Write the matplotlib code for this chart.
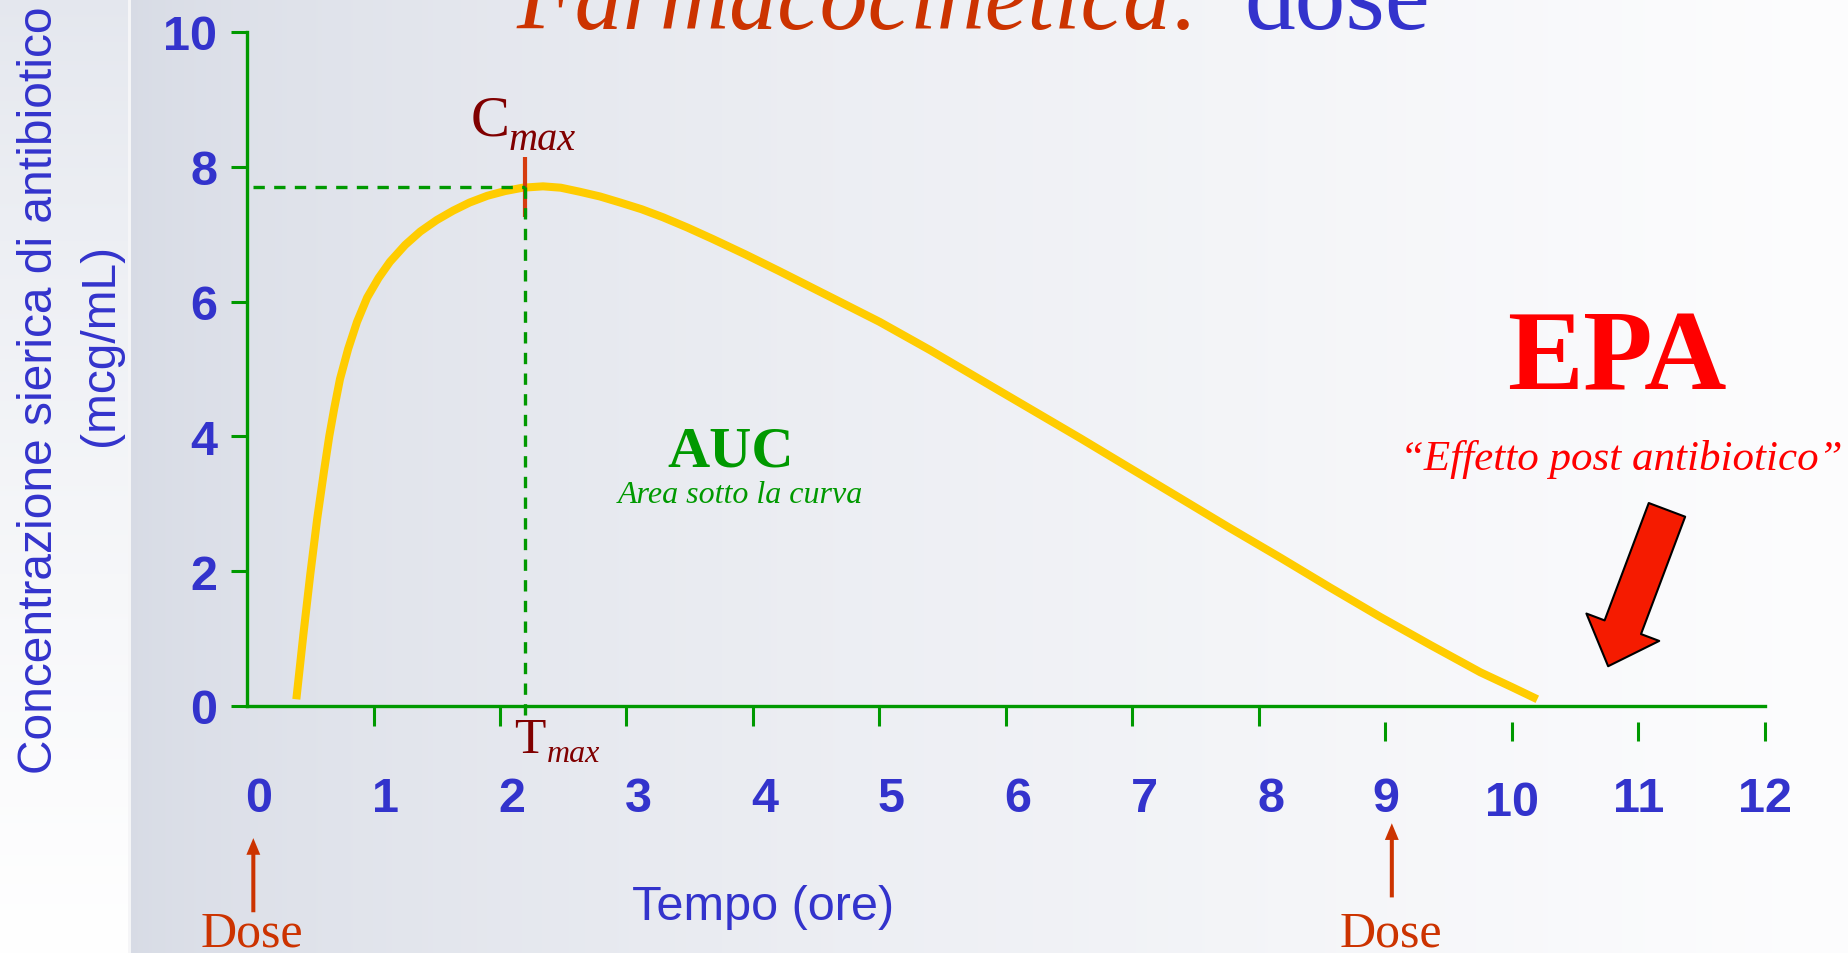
import matplotlib
matplotlib.use('Agg')
import matplotlib.pyplot as plt
import numpy as np
from matplotlib.transforms import ScaledTranslation

# values
hours = list(range(13))
hour_labels = [str(h) for h in hours]
conc_ticks = [0, 2, 4, 6, 8, 10]
conc_labels = [str(c) for c in conc_ticks]

t_curve = [0.39, 0.445, 0.50, 0.555, 0.61, 0.65, 0.69, 0.735, 0.80, 0.87, 0.95, 1.04,
           1.13, 1.25, 1.37, 1.50, 1.63, 1.76, 1.90, 2.04, 2.18, 2.34, 2.48, 2.63,
           2.79, 2.95, 3.12, 3.29, 3.48, 3.68, 3.94, 4.21, 4.60, 5.00, 5.40, 5.79,
           6.19, 6.59, 6.98, 7.38, 7.77, 8.17, 8.56, 8.96, 9.36, 9.75, 10.00, 10.20]
c_curve = [0.10, 1.05, 1.95, 2.78, 3.50, 4.00, 4.42, 4.85, 5.30, 5.70, 6.06, 6.35,
           6.59, 6.84, 7.04, 7.21, 7.35, 7.47, 7.57, 7.64, 7.69, 7.71, 7.69, 7.63,
           7.56, 7.47, 7.37, 7.25, 7.10, 6.93, 6.70, 6.45, 6.08, 5.70, 5.28, 4.85,
           4.41, 3.97, 3.53, 3.08, 2.64, 2.20, 1.76, 1.32, 0.90, 0.50, 0.28, 0.10]

t_max = 2.2
c_max = 7.7
dose_times = [0, 9]

W, H = 1849, 954
BLUE = '#3333CC'
GREEN = '#009900'
ORANGE = '#CC3300'
DARKRED = '#800000'
SANS = 'Liberation Sans'
SERIF = 'Liberation Serif'


def fx(p):
    return p / W


def fy(p):
    return 1 - p / H


fig = plt.figure(figsize=(W / 100, H / 100), dpi=100)

# slide background: light strip on the left, grey-blue to white gradient elsewhere
bg = fig.add_axes([0, 0, 1, 1], zorder=-5)
xx = np.arange(W)[None, :]
yy = np.arange(H)[:, None]
c0 = np.array([215, 219, 229]) / 255
c1 = np.array([253, 253, 254]) / 255
f = np.clip((xx - 130) / (W - 130), 0, 1) ** 0.65
img = c0 + (c1 - c0) * f[..., None]
img = np.repeat(img, H, axis=0)
s0 = np.array([228, 231, 238]) / 255
s1 = np.array([255, 255, 255]) / 255
fs = (yy / H) ** 0.8
strip = s0 + (s1 - s0) * fs[..., None]
img[:, :128] = np.repeat(strip, 128, axis=1)
img[:, 128:131] = np.array([245, 246, 248]) / 255
bg.imshow(img, aspect='auto', extent=[0, 1, 0, 1])
bg.axis('off')

# main axes: x 0..12 -> px 247..1765, y 0..10 -> px 707..33
ax = fig.add_axes([fx(247), fy(707), fx(1765) - fx(247), (707 - 33) / H])
ax.set_facecolor('none')
ax.set_xlim(0, 12)
ax.set_ylim(0, 10)
for s in ['top', 'right']:
    ax.spines[s].set_visible(False)
for s in ['left', 'bottom']:
    ax.spines[s].set_color(GREEN)
    ax.spines[s].set_linewidth(2.4)

ax.set_yticks(conc_ticks)
ax.set_yticklabels(conc_labels)
ax.tick_params(axis='y', direction='out', length=11.5, width=2.2, color=GREEN,
               labelcolor=BLUE, labelsize=35, pad=10)
for lab in ax.get_yticklabels():
    lab.set_fontweight('bold')
    lab.set_family(SANS)
ax.set_xticks([])

# x tick marks: 1-8 attached to the axis, 9-12 floating below it
ax.vlines([h for h in hours if 1 <= h <= 8], 0, -0.30, color=GREEN, lw=2.2, clip_on=False)
ax.vlines([h for h in hours if h >= 9], -0.237, -0.52, color=GREEN, lw=2.2, clip_on=False)

nudge = {10: (0, -4)}
for h, lab in zip(hours, hour_labels):
    dx = 12 if h <= 8 else 0
    ddx, ddy = nudge.get(h, (0, 0))
    off = ScaledTranslation((dx + ddx) / 100, (-93 + ddy) / 100, fig.dpi_scale_trans)
    ax.text(h, 0, lab, transform=ax.transData + off, ha='center', va='center',
            fontsize=35, fontweight='bold', color=BLUE, family=SANS, clip_on=False)

# concentration curve
ax.plot(t_curve, c_curve, color='#FFCC00', lw=5.8, solid_capstyle='butt',
        solid_joinstyle='round', zorder=3, clip_on=False)

# Cmax / Tmax guides
ax.plot([t_max, t_max], [c_max - 0.44, c_max + 0.45], color='#D63C0E', lw=3,
        zorder=4, solid_capstyle='butt')
ax.plot([0.05, t_max], [c_max, c_max], color=GREEN, lw=2.4, dashes=(3.4, 2.8), zorder=5)
ax.plot([t_max, t_max], [c_max, -0.15], color=GREEN, lw=2.4, dashes=(3.4, 2.8), zorder=5,
        clip_on=False)

fig.text(fx(471), fy(136), 'C', family=SERIF, fontsize=42, color=DARKRED, va='baseline')
fig.text(fx(509), fy(150), 'max', family=SERIF, style='italic', fontsize=29,
         color=DARKRED, va='baseline')
fig.text(fx(514), fy(753), 'T', family=SERIF, fontsize=37, color=DARKRED, va='baseline')
fig.text(fx(547), fy(762), 'max', family=SERIF, style='italic', fontsize=23,
         color=DARKRED, va='baseline')

# AUC
fig.text(fx(731), fy(467), 'AUC', family=SERIF, fontweight='bold', fontsize=42,
         color=GREEN, ha='center', va='baseline')
fig.text(fx(740), fy(503), 'Area sotto la curva', family=SERIF, style='italic',
         fontsize=23, color=GREEN, ha='center', va='baseline')

# EPA
fig.text(fx(1617), fy(390), 'EPA', family=SERIF, fontweight='bold', fontsize=82,
         color='#FF0000', ha='center', va='baseline')
fig.text(fx(1621), fy(470), '\u201cEffetto post antibiotico\u201d', family=SERIF,
         style='italic', fontsize=31, color='#FF0000', ha='center', va='baseline')
ax.annotate('', xy=(10.76, 0.59), xytext=(11.225, 2.91),
            arrowprops=dict(arrowstyle='simple,head_length=30,head_width=56,tail_width=28',
                            mutation_scale=1, fc='#F51B00', ec='black', lw=1.5,
                            shrinkA=0, shrinkB=0),
            annotation_clip=False)

# dose arrows
for t, tip in zip(dose_times, [-1.96, -1.74]):
    ax.annotate('', xy=(t + 0.05, tip), xytext=(t + 0.05, tip - 1.1),
                arrowprops=dict(arrowstyle='simple,head_length=12,head_width=10,tail_width=2.9',
                                mutation_scale=1, fc=ORANGE, ec='none',
                                shrinkA=0, shrinkB=0),
                annotation_clip=False)
    ax.text(t + 0.04, -3.55, 'Dose', family=SERIF, fontsize=36, color=ORANGE,
            ha='center', va='baseline', clip_on=False)

# axis titles
fig.text(fx(763), fy(920), 'Tempo (ore)', family=SANS, fontsize=35, color=BLUE,
         ha='center', va='baseline')
fig.text(fx(52), fy(390), 'Concentrazione sierica di antibiotico', family=SANS,
         fontsize=34.5, color=BLUE, rotation=90, rotation_mode='anchor',
         ha='center', va='baseline')
fig.text(fx(113), fy(345), '(mcg/mL)', family=SANS, fontsize=34.5, color=BLUE,
         rotation=90, rotation_mode='anchor', ha='center', va='baseline')

# title, cut off at the top edge as on the slide
fig.text(fx(1203), fy(29), 'Farmacocinetica:', family=SERIF, style='italic', fontsize=69,
         color=ORANGE, ha='right', va='baseline')
fig.text(fx(1244), fy(29), 'dose', family=SERIF, fontsize=73, color=BLUE,
         ha='left', va='baseline')

fig.savefig('out.png', dpi=100)
